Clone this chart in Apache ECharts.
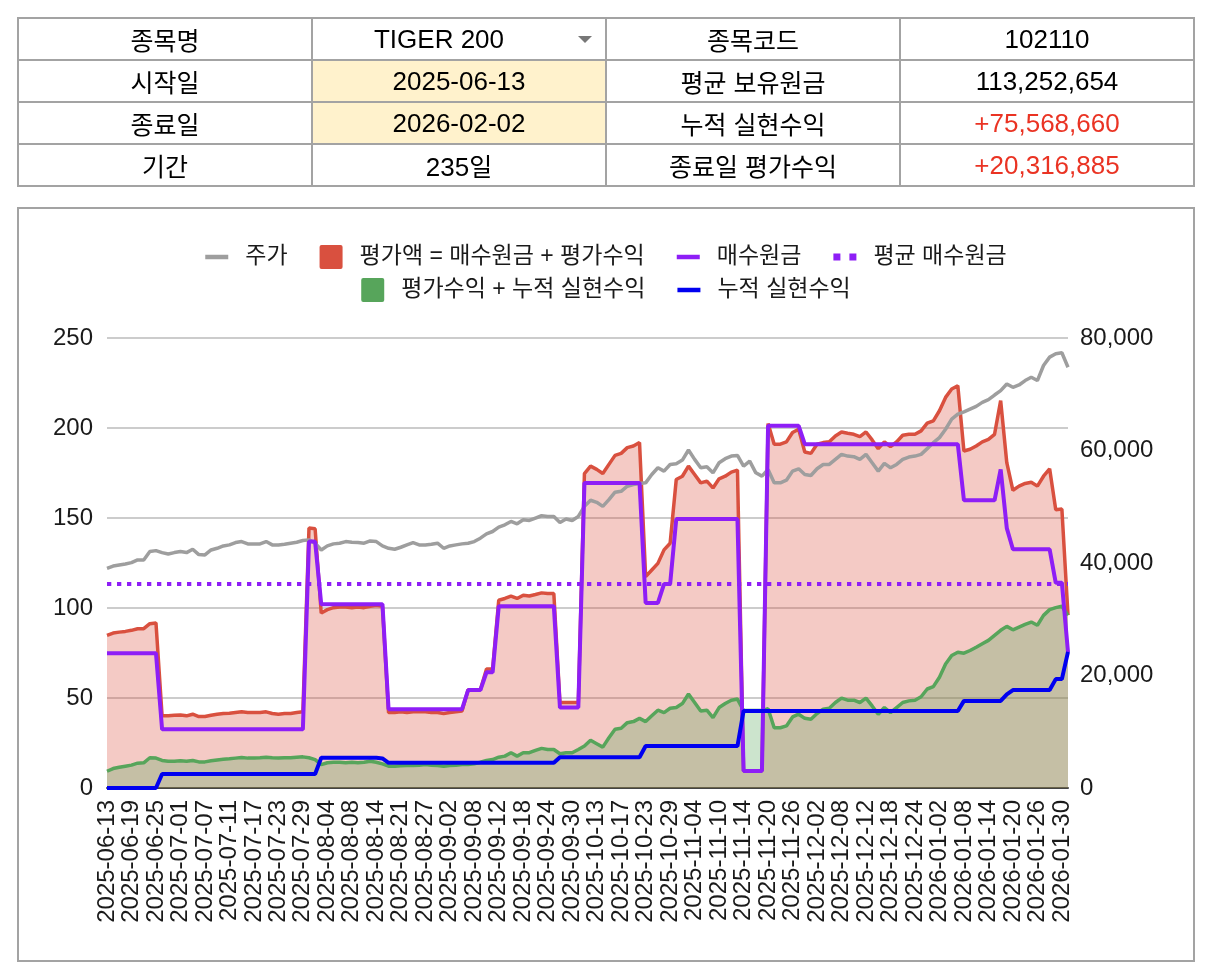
<!DOCTYPE html>
<html lang="ko">
<head>
<meta charset="utf-8">
<title>TIGER 200</title>
<script src="https://cdn.jsdelivr.net/npm/echarts@6.0.0/dist/echarts.min.js"></script>
<style>
    html, body {
        margin: 0;
        padding: 0;
        background: #fff;
        width: 1212px;
        height: 976px;
        overflow: hidden;
        font-family: 'Liberation Sans', 'Noto Sans CJK KR', sans-serif;
    }
    #info {
        position: absolute;
        left: 17px;
        top: 17px;
        width: 1178px;
        border-collapse: collapse;
        table-layout: fixed;
        font-size: 26px;
        color: #000;
        z-index: 2;
    }
    #info td {
        border: 2px solid #a3a3a3;
        height: 40px;
        padding: 0;
        text-align: center;
        vertical-align: middle;
        white-space: nowrap;
        overflow: hidden;
    }
    #info .ko {
        font-size: 25px;
    }
    #info .hl {
        background: #fff2cc;
    }
    #info .red {
        color: #ea3323;
    }
    #info .sel {
        position: relative;
        padding-right: 40px;
    }
    #info .sel:after {
        content: '';
        position: absolute;
        right: 13px;
        top: 50%;
        margin-top: -3px;
        border-left: 7px solid transparent;
        border-right: 7px solid transparent;
        border-top: 7px solid #777;
    }
    #box {
        position: absolute;
        left: 17px;
        top: 207px;
        width: 1178px;
        height: 755px;
        border: 2px solid #a3a3a3;
        box-sizing: border-box;
    }
    #chart {
        position: absolute;
        left: 0;
        top: 0;
        width: 1212px;
        height: 976px;
    }
</style>
</head>
<body>
<table id="info">
    <tr>
        <td class="ko">종목명</td>
        <td class="sel">TIGER 200</td>
        <td class="ko">종목코드</td>
        <td>102110</td>
    </tr>
    <tr>
        <td class="ko">시작일</td>
        <td class="hl">2025-06-13</td>
        <td class="ko">평균 보유원금</td>
        <td>113,252,654</td>
    </tr>
    <tr>
        <td class="ko">종료일</td>
        <td class="hl">2026-02-02</td>
        <td class="ko">누적 실현수익</td>
        <td class="red">+75,568,660</td>
    </tr>
    <tr>
        <td class="ko">기간</td>
        <td>235<span class="ko">일</span></td>
        <td class="ko">종료일 평가수익</td>
        <td class="red">+20,316,885</td>
    </tr>
</table>
<div id="box"></div>
<div id="chart"></div>
<script>
'use strict';

// 거래일
var dates = [
    '2025-06-13', '2025-06-16', '2025-06-17', '2025-06-18', '2025-06-19', '2025-06-20', '2025-06-23', '2025-06-24', '2025-06-25', '2025-06-26',
    '2025-06-27', '2025-06-30', '2025-07-01', '2025-07-02', '2025-07-03', '2025-07-04', '2025-07-07', '2025-07-08', '2025-07-09', '2025-07-10',
    '2025-07-11', '2025-07-14', '2025-07-15', '2025-07-16', '2025-07-17', '2025-07-18', '2025-07-21', '2025-07-22', '2025-07-23', '2025-07-24',
    '2025-07-25', '2025-07-28', '2025-07-29', '2025-07-30', '2025-07-31', '2025-08-01', '2025-08-04', '2025-08-05', '2025-08-06', '2025-08-07',
    '2025-08-08', '2025-08-11', '2025-08-12', '2025-08-13', '2025-08-14', '2025-08-18', '2025-08-19', '2025-08-20', '2025-08-21', '2025-08-22',
    '2025-08-25', '2025-08-26', '2025-08-27', '2025-08-28', '2025-08-29', '2025-09-01', '2025-09-02', '2025-09-03', '2025-09-04', '2025-09-05',
    '2025-09-08', '2025-09-09', '2025-09-10', '2025-09-11', '2025-09-12', '2025-09-15', '2025-09-16', '2025-09-17', '2025-09-18', '2025-09-19',
    '2025-09-22', '2025-09-23', '2025-09-24', '2025-09-25', '2025-09-26', '2025-09-29', '2025-09-30', '2025-10-01', '2025-10-02', '2025-10-10',
    '2025-10-13', '2025-10-14', '2025-10-15', '2025-10-16', '2025-10-17', '2025-10-20', '2025-10-21', '2025-10-22', '2025-10-23', '2025-10-24',
    '2025-10-27', '2025-10-28', '2025-10-29', '2025-10-30', '2025-10-31', '2025-11-03', '2025-11-04', '2025-11-05', '2025-11-06', '2025-11-07',
    '2025-11-10', '2025-11-11', '2025-11-12', '2025-11-13', '2025-11-14', '2025-11-17', '2025-11-18', '2025-11-19', '2025-11-20', '2025-11-21',
    '2025-11-24', '2025-11-25', '2025-11-26', '2025-11-27', '2025-11-28', '2025-12-01', '2025-12-02', '2025-12-03', '2025-12-04', '2025-12-05',
    '2025-12-08', '2025-12-09', '2025-12-10', '2025-12-11', '2025-12-12', '2025-12-15', '2025-12-16', '2025-12-17', '2025-12-18', '2025-12-19',
    '2025-12-22', '2025-12-23', '2025-12-24', '2025-12-26', '2025-12-29', '2025-12-30', '2026-01-02', '2026-01-05', '2026-01-06', '2026-01-07',
    '2026-01-08', '2026-01-09', '2026-01-12', '2026-01-13', '2026-01-14', '2026-01-15', '2026-01-16', '2026-01-19', '2026-01-20', '2026-01-21',
    '2026-01-22', '2026-01-23', '2026-01-26', '2026-01-27', '2026-01-28', '2026-01-29', '2026-01-30', '2026-02-02'
];

// 주가 (원, 오른쪽 축)
var price = [
    39050, 39460, 39640, 39820, 40060, 40540, 40540, 42030, 42200, 41850,
    41610, 41850, 42030, 41850, 42440, 41490, 41430, 42320, 42620, 43040,
    43220, 43630, 43810, 43400, 43400, 43400, 43810, 43220, 43220, 43340,
    43520, 43690, 43990, 44110, 43520, 42320, 43040, 43400, 43520, 43810,
    43690, 43630, 43520, 43930, 43810, 43040, 42620, 42440, 42800, 43220,
    43630, 43220, 43220, 43340, 43520, 42620, 43040, 43220, 43400, 43520,
    43810, 44410, 45180, 45600, 46380, 46790, 47390, 46970, 47690, 47570,
    47990, 48400, 48280, 48280, 47210, 47810, 47570, 48280, 50070, 51150,
    50790, 50070, 51260, 52580, 52750, 53650, 53950, 54130, 54250, 55740,
    56930, 56330, 57520, 57640, 58300, 60090, 58420, 56930, 57110, 56030,
    57820, 58540, 59010, 59130, 57230, 58120, 56030, 55440, 56630, 54250,
    54250, 54720, 56330, 56750, 55740, 55560, 56750, 57520, 57520, 58420,
    59310, 59010, 58900, 58420, 59310, 57820, 56330, 57700, 56930, 57520,
    58420, 58840, 59010, 59310, 60330, 61400, 62290, 63780, 65570, 66470,
    66880, 67360, 67840, 68550, 69030, 69860, 70640, 71830, 71230, 71650,
    72430, 73020, 72430, 75110, 76600, 77200, 77370, 74810
];

// 평가액 (백만원)
var evalValue = [
    84.8, 86.1, 86.6, 87.0, 87.6, 88.5, 88.5, 91.3, 91.7, 40.1,
    40.1, 40.4, 40.6, 40.1, 41.0, 39.7, 39.7, 40.4, 41.0, 41.4,
    41.5, 41.9, 42.3, 41.9, 41.9, 41.9, 42.3, 41.4, 41.0, 41.4,
    41.4, 41.9, 42.3, 144.4, 144.0, 97.2, 99.1, 100.2, 100.6, 100.6,
    100.2, 100.6, 100.2, 101.0, 101.5, 101.0, 41.9, 41.9, 42.3, 41.9,
    42.3, 42.3, 42.3, 41.9, 41.9, 41.4, 41.9, 42.3, 42.8, 54.6,
    54.6, 54.6, 66.1, 66.1, 104.3, 105.3, 106.6, 105.3, 107.1, 106.7,
    107.5, 108.4, 108.0, 108.0, 47.5, 47.5, 47.5, 47.5, 174.7, 178.8,
    177.0, 174.7, 179.8, 184.8, 185.9, 189.1, 190.0, 191.9, 117.4, 121.1,
    124.8, 132.3, 136.0, 171.4, 173.2, 178.8, 174.2, 169.5, 170.5, 166.7,
    171.8, 173.2, 175.5, 176.6, 9.5, 9.5, 9.5, 9.5, 202.5, 191.0,
    191.0, 192.3, 197.5, 199.3, 186.7, 185.9, 191.0, 191.9, 192.3, 195.6,
    197.8, 197.1, 196.5, 195.2, 197.8, 193.4, 188.5, 192.3, 189.6, 192.3,
    196.0, 196.5, 196.5, 198.4, 202.7, 204.0, 209.6, 217.0, 221.7, 223.5,
    187.2, 188.2, 190.0, 192.3, 193.7, 196.5, 215.2, 180.7, 165.4, 167.7,
    169.2, 169.9, 167.7, 173.2, 177.3, 154.6, 155.0, 96.0
];

// 매수원금 (백만원)
var buyCost = [
    74.9, 74.9, 74.9, 74.9, 74.9, 74.9, 74.9, 74.9, 74.9, 32.6,
    32.6, 32.6, 32.6, 32.6, 32.6, 32.6, 32.6, 32.6, 32.6, 32.6,
    32.6, 32.6, 32.6, 32.6, 32.6, 32.6, 32.6, 32.6, 32.6, 32.6,
    32.6, 32.6, 32.6, 136.9, 136.9, 102.1, 102.1, 102.1, 102.1, 102.1,
    102.1, 102.1, 102.1, 102.1, 102.1, 102.1, 43.8, 43.8, 43.8, 43.8,
    43.8, 43.8, 43.8, 43.8, 43.8, 43.8, 43.8, 43.8, 43.8, 54.4,
    54.4, 54.4, 64.3, 64.3, 101.0, 101.0, 101.0, 101.0, 101.0, 101.0,
    101.0, 101.0, 101.0, 101.0, 44.7, 44.7, 44.7, 44.7, 169.5, 169.5,
    169.5, 169.5, 169.5, 169.5, 169.5, 169.5, 169.5, 169.5, 102.8, 102.8,
    102.8, 113.3, 113.3, 149.4, 149.4, 149.4, 149.4, 149.4, 149.4, 149.4,
    149.4, 149.4, 149.4, 149.4, 9.5, 9.5, 9.5, 9.5, 201.2, 201.2,
    201.2, 201.2, 201.2, 201.2, 191.0, 191.0, 191.0, 191.0, 191.0, 191.0,
    191.0, 191.0, 191.0, 191.0, 191.0, 191.0, 191.0, 191.0, 191.0, 191.0,
    191.0, 191.0, 191.0, 191.0, 191.0, 191.0, 191.0, 191.0, 191.0, 191.0,
    159.8, 159.8, 159.8, 159.8, 159.8, 159.8, 177.0, 144.4, 132.6, 132.6,
    132.6, 132.6, 132.6, 132.6, 132.6, 114.0, 114.0, 75.5
];

// 평가수익 + 누적 실현수익 (백만원)
var totalProfit = [
    9.3, 10.8, 11.5, 12.1, 12.7, 13.8, 14.0, 16.8, 16.6, 15.3,
    14.9, 14.9, 15.1, 14.9, 15.3, 14.5, 14.5, 15.1, 15.6, 16.0,
    16.2, 16.6, 17.0, 16.6, 16.6, 16.8, 17.1, 16.8, 16.6, 16.8,
    16.8, 17.1, 17.3, 16.8, 15.8, 13.0, 14.0, 14.3, 14.3, 14.0,
    14.3, 14.0, 14.3, 14.9, 14.3, 13.4, 12.1, 12.1, 12.3, 12.5,
    12.5, 12.7, 13.0, 12.7, 12.5, 12.1, 12.5, 12.7, 13.0, 13.0,
    13.4, 14.3, 15.3, 15.8, 17.1, 17.7, 19.6, 17.7, 19.6, 19.6,
    20.9, 22.0, 21.4, 21.4, 19.0, 19.6, 19.6, 21.4, 23.3, 26.5,
    24.6, 22.7, 27.9, 32.6, 33.2, 36.3, 36.9, 38.7, 36.9, 40.1,
    43.2, 41.9, 44.3, 44.7, 46.9, 52.2, 47.5, 42.8, 43.2, 39.1,
    44.7, 46.9, 48.8, 49.4, 43.0, 43.0, 43.0, 43.0, 44.0, 33.5,
    33.5, 34.5, 39.5, 41.0, 38.7, 38.2, 41.4, 43.8, 44.3, 47.5,
    49.9, 48.8, 48.8, 47.5, 49.9, 45.6, 41.0, 44.7, 41.9, 44.7,
    47.5, 48.4, 48.8, 50.7, 55.0, 56.3, 61.5, 68.9, 73.6, 75.4,
    74.9, 76.4, 78.2, 80.1, 82.0, 84.8, 87.6, 89.8, 87.9, 89.4,
    90.9, 92.2, 90.4, 95.9, 99.1, 100.2, 101.0, 95.9
];

// 누적 실현수익 (백만원)
var realized = [
    0, 0, 0, 0, 0, 0, 0, 0, 0, 7.8,
    7.8, 7.8, 7.8, 7.8, 7.8, 7.8, 7.8, 7.8, 7.8, 7.8,
    7.8, 7.8, 7.8, 7.8, 7.8, 7.8, 7.8, 7.8, 7.8, 7.8,
    7.8, 7.8, 7.8, 7.8, 7.8, 16.8, 16.8, 16.8, 16.8, 16.8,
    16.8, 16.8, 16.8, 16.8, 16.8, 16.4, 14.0, 14.0, 14.0, 14.0,
    14.0, 14.0, 14.0, 14.0, 14.0, 14.0, 14.0, 14.0, 14.0, 14.0,
    14.0, 14.0, 14.0, 14.0, 14.0, 14.0, 14.0, 14.0, 14.0, 14.0,
    14.0, 14.0, 14.0, 14.0, 17.1, 17.1, 17.1, 17.1, 17.1, 17.1,
    17.1, 17.1, 17.1, 17.1, 17.1, 17.1, 17.1, 17.1, 23.3, 23.3,
    23.3, 23.3, 23.3, 23.3, 23.3, 23.3, 23.3, 23.3, 23.3, 23.3,
    23.3, 23.3, 23.3, 23.3, 42.8, 42.8, 42.8, 42.8, 42.8, 42.8,
    42.8, 42.8, 42.8, 42.8, 42.8, 42.8, 42.8, 42.8, 42.8, 42.8,
    42.8, 42.8, 42.8, 42.8, 42.8, 42.8, 42.8, 42.8, 42.8, 42.8,
    42.8, 42.8, 42.8, 42.8, 42.8, 42.8, 42.8, 42.8, 42.8, 42.8,
    48.4, 48.4, 48.4, 48.4, 48.4, 48.4, 48.4, 52.0, 54.4, 54.4,
    54.4, 54.4, 54.4, 54.4, 54.4, 60.5, 60.5, 75.6
];

// 평균 매수원금 (백만원)
var avgCost = 113.252654;

var FONT = "'Liberation Sans', 'Noto Sans CJK KR', sans-serif";
var C_GRAY = '#9e9e9e',
    C_RED = '#d9503f',
    C_PURPLE = '#8e1ef6',
    C_GREEN = '#57a55b',
    C_BLUE = '#0000f0';

// 범례 아이콘
var ICON_AREA = 'path://M2,0H21Q23,0,23,2V22Q23,24,21,24H2Q0,24,0,22V2Q0,0,2,0Z';
var ICON_LINE = 'path://M0,0H46V9H0Z';
var ICON_DOT = 'path://M0,0H7V7H0Z M16,0H23V7H16Z';

var NAME_PRICE = '주가',
    NAME_EVAL = '평가액 = 매수원금 + 평가수익',
    NAME_COST = '매수원금',
    NAME_AVG = '평균 매수원금',
    NAME_TOTAL = '평가수익 + 누적 실현수익',
    NAME_REAL = '누적 실현수익';

function legendOf(top, items) {
    return {
        top: top,
        left: 'center',
        itemWidth: 23,
        itemHeight: 24,
        itemGap: 32,
        selectedMode: false,
        itemStyle: {borderWidth: 0},
        textStyle: {
            fontFamily: FONT,
            fontSize: 23,
            color: '#1a1a1a',
            padding: [0, 0, 0, 12]
        },
        data: items
    };
}

function lineSeries(name, data, color, width, yIdx, z) {
    return {
        name: name,
        type: 'line',
        yAxisIndex: yIdx,
        data: data,
        color: color,
        symbol: 'none',
        z: z,
        lineStyle: {width: width, color: color},
        emphasis: {disabled: true}
    };
}

var evalSeries = lineSeries(NAME_EVAL, evalValue, C_RED, 3.5, 0, 2);
evalSeries.areaStyle = {color: C_RED, opacity: 0.3};
var totalSeries = lineSeries(NAME_TOTAL, totalProfit, C_GREEN, 3.5, 0, 3);
totalSeries.areaStyle = {color: C_GREEN, opacity: 0.3};
var avgSeries = lineSeries(NAME_AVG, [], C_PURPLE, 4, 0, 5);
avgSeries.markLine = {
    silent: true,
    symbol: 'none',
    label: {show: false},
    lineStyle: {color: C_PURPLE, width: 4, type: [4.3, 5.7], cap: 'butt'},
    data: [{yAxis: avgCost}]
};

var option = {
    animation: false,
    legend: [
        legendOf(240, [
            {name: NAME_PRICE, icon: ICON_LINE},
            {name: NAME_EVAL, icon: ICON_AREA},
            {name: NAME_COST, icon: ICON_LINE},
            {name: NAME_AVG, icon: ICON_DOT}
        ]),
        legendOf(273, [
            {name: NAME_TOTAL, icon: ICON_AREA},
            {name: NAME_REAL, icon: ICON_LINE}
        ])
    ],
    grid: {
        left: 107,
        right: 144,
        top: 338,
        bottom: 188,
        outerBoundsMode: 'none'
    },
    xAxis: {
        type: 'category',
        data: dates,
        boundaryGap: false,
        axisLine: {lineStyle: {color: '#444', width: 2}},
        axisTick: {show: false},
        splitLine: {show: false},
        axisLabel: {
            interval: 3,
            rotate: 90,
            margin: 12,
            fontFamily: FONT,
            fontSize: 24,
            color: '#1a1a1a'
        }
    },
    yAxis: [
        {
            type: 'value',
            min: 0,
            max: 250,
            interval: 50,
            axisLine: {show: false},
            axisTick: {show: false},
            splitLine: {lineStyle: {color: '#cccccc', width: 2}},
            axisLabel: {margin: 14, fontFamily: FONT, fontSize: 24, color: '#1a1a1a'}
        },
        {
            type: 'value',
            position: 'right',
            min: 0,
            max: 80000,
            interval: 20000,
            axisLine: {show: false},
            axisTick: {show: false},
            splitLine: {show: false},
            axisLabel: {
                margin: 12,
                fontFamily: FONT,
                fontSize: 24,
                color: '#1a1a1a',
                formatter: function (v) {
                    return v.toLocaleString('en-US');
                }
            }
        }
    ],
    series: [
        evalSeries,
        totalSeries,
        lineSeries(NAME_PRICE, price, C_GRAY, 3.5, 1, 4),
        lineSeries(NAME_COST, buyCost, C_PURPLE, 4, 0, 5),
        avgSeries,
        lineSeries(NAME_REAL, realized, C_BLUE, 4, 0, 6)
    ]
};

var myChart = echarts.init(document.getElementById('chart'), null, {renderer: 'canvas'});
myChart.setOption(option);
</script>
</body>
</html>
